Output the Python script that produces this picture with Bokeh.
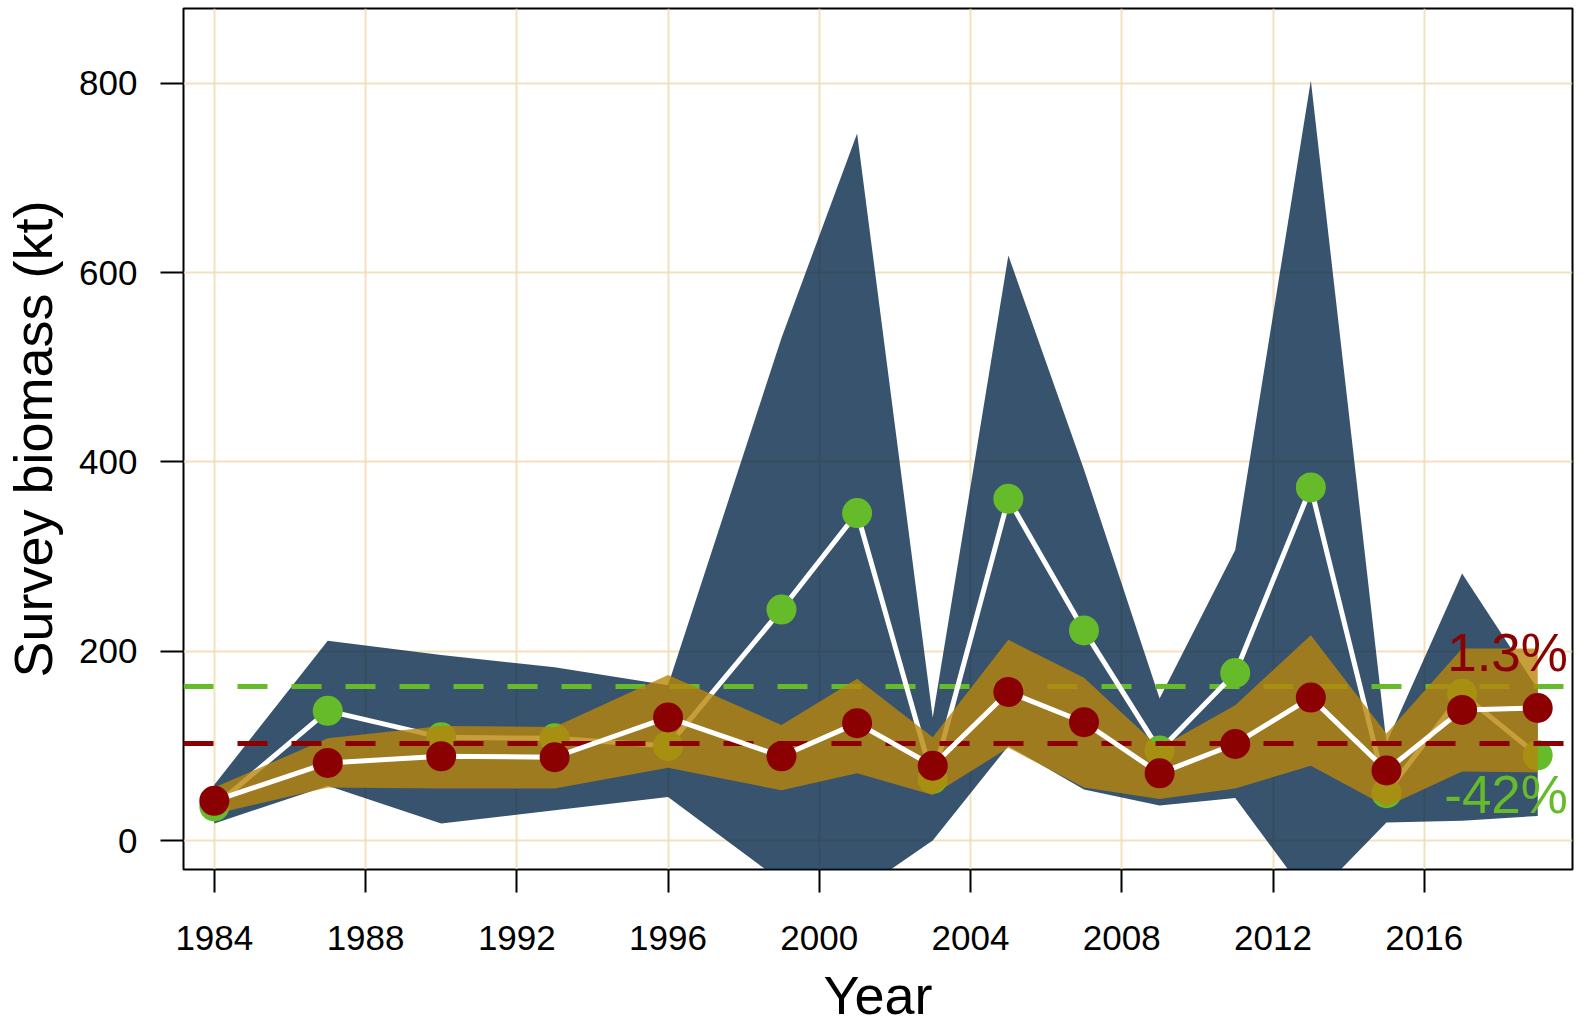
from bokeh.plotting import figure
from bokeh.models import Range1d, FixedTicker
from bokeh.embed import file_html
from bokeh.resources import INLINE
from bokeh.core.properties import value

# ---- data ----
years = [1984, 1987, 1990, 1993, 1996, 1999, 2001, 2003, 2005, 2007, 2009, 2011, 2013, 2015, 2017, 2019]
green_biomass = [36, 137, 109, 108, 100, 244, 346, 65, 361, 222, 95, 177, 373, 50, 155, 90]
green_upper = [59, 211, 196, 183, 164, 531, 747, 130, 618, 392, 150, 307, 803, 103, 282, 160]
green_lower = [18, 58, 18, 32, 46, -43, -55, 0, 100, 54, 37, 45, -63, 19, 21, 26]
red_biomass = [42, 82, 89, 88, 130, 89, 124, 79, 157, 125, 71, 102, 151, 74, 138, 140]
red_upper = [56, 108, 121, 120, 175, 122, 171, 109, 212, 172, 98, 143, 217, 113, 203, 203]
red_lower = [28, 56, 55, 55, 77, 53, 71, 48, 98, 56, 44, 55, 79, 36, 73, 72]
green_mean = 163
red_mean = 103
x_ticks = [1984, 1988, 1992, 1996, 2000, 2004, 2008, 2012, 2016]
y_ticks = [0, 200, 400, 600, 800]
change_labels = ["1.3%", "-42%"]

# ---- layout / style ----
FONT = "Liberation Sans"
BLUE = "#062848"
GOLD = "#B8860B"
GREEN = "#66BB2A"
RED = "#8B0000"
label_x = 2019.8
label_y = [199, 49]

p = figure(width=1580, height=1028, output_backend="svg", toolbar_location=None,
           x_range=Range1d(1983.185, 2019.92), y_range=Range1d(-30.6, 879),
           min_border_left=183, min_border_right=8, min_border_top=8, min_border_bottom=159,
           background_fill_color="white", border_fill_color="white")

p.outline_line_color = "black"
p.outline_line_width = 2

p.xaxis.ticker = FixedTicker(ticks=x_ticks)
p.yaxis.ticker = FixedTicker(ticks=y_ticks)
for ax in (p.xaxis[0], p.yaxis[0]):
    ax.axis_line_color = None
    ax.major_tick_line_color = "black"
    ax.major_tick_line_width = 2
    ax.major_tick_in = 0
    ax.major_tick_out = 23
    ax.minor_tick_line_color = None
    ax.major_label_text_font = FONT
    ax.major_label_text_font_size = "35px"
    ax.major_label_text_color = "black"
    ax.axis_label_text_font = FONT
    ax.axis_label_text_font_size = "54px"
    ax.axis_label_text_font_style = "normal"
    ax.axis_label_text_color = "black"
p.xaxis.major_label_standoff = 33
p.yaxis.major_label_standoff = 23
p.xaxis.axis_label = "Year"
p.yaxis.axis_label = "Survey biomass (kt)"
p.xaxis.axis_label_standoff = 12
p.yaxis.axis_label_standoff = 13

p.xgrid.ticker = FixedTicker(ticks=x_ticks)
p.ygrid.ticker = FixedTicker(ticks=y_ticks)
for g in (p.xgrid[0], p.ygrid[0]):
    g.grid_line_color = "#F0D9AE"
    g.grid_line_width = 2
    g.grid_line_alpha = 0.8

# green series confidence band
p.patch(years + years[::-1], green_upper + green_lower[::-1],
        fill_color=BLUE, fill_alpha=0.8, line_color=None)
p.hspan(y=[green_mean], line_color=GREEN, line_width=5, line_dash="30 24")
p.line(years, green_biomass, line_color="white", line_width=5)
p.scatter(years, green_biomass, size=30, fill_color=GREEN, line_color=None)

# red series confidence band
p.patch(years + years[::-1], red_upper + red_lower[::-1],
        fill_color=GOLD, fill_alpha=0.8, line_color=None)
p.hspan(y=[red_mean], line_color=RED, line_width=5, line_dash="30 24")
p.line(years, red_biomass, line_color="white", line_width=5)
p.scatter(years, red_biomass, size=30, fill_color=RED, line_color=None)

p.text(x=[label_x], y=[label_y[0]], text=[change_labels[0]], text_color=RED,
       text_font=value(FONT), text_font_size="53px", text_align="right",
       text_baseline="alphabetic")
p.text(x=[label_x], y=[label_y[1]], text=[change_labels[1]], text_color=GREEN,
       text_font=value(FONT), text_font_size="53px", text_align="right",
       text_baseline="alphabetic")

open("out.html", "w").write(file_html(p, INLINE))
